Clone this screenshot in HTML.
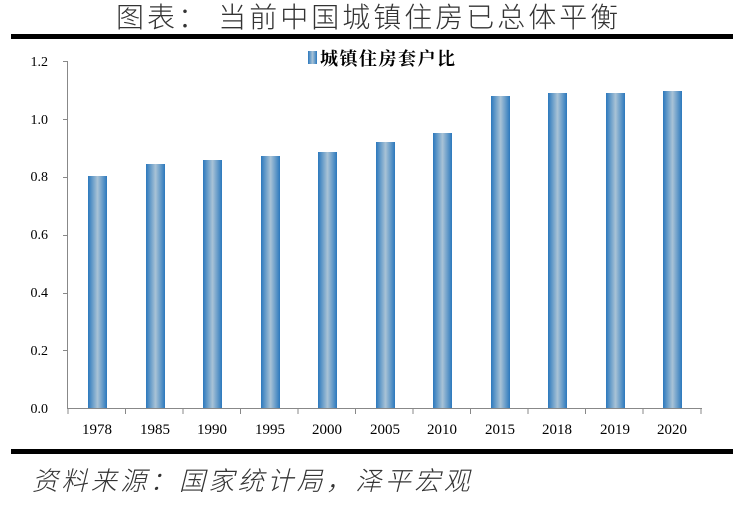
<!DOCTYPE html>
<html><head><meta charset="utf-8"><style>
body{margin:0;background:#fff;width:740px;height:505px;overflow:hidden}
</style></head><body>
<svg width="740" height="505" xmlns="http://www.w3.org/2000/svg">
<defs><linearGradient id="g" x1="0" x2="1" y1="0" y2="0">
<stop offset="0" stop-color="#2b78bd"/><stop offset="0.5" stop-color="#a9c3d6"/><stop offset="1" stop-color="#2b78bd"/></linearGradient></defs>
<text x="116" y="27" font-family="'Noto Sans CJK SC',sans-serif" font-weight="300" font-size="28" fill="#333" letter-spacing="3">图表：  当前中国城镇住房已总体平衡</text>
<rect x="11" y="34" width="722" height="5" fill="#000"/>
<rect x="11" y="449" width="722" height="5" fill="#000"/>
<text x="32" y="490" font-family="'Noto Sans CJK SC',sans-serif" font-weight="300" font-style="italic" font-size="26" fill="#333" letter-spacing="3.4">资料来源：国家统计局，泽平宏观</text>
<g font-family="'Liberation Serif',serif" font-size="14" fill="#000" text-anchor="end">
<text x="48" y="66">1.2</text><text x="48" y="124">1.0</text><text x="48" y="181">0.8</text>
<text x="48" y="239">0.6</text><text x="48" y="297">0.4</text><text x="48" y="355">0.2</text><text x="48" y="413">0.0</text>
</g>
<g stroke="#888" stroke-width="1">
<line x1="67.5" y1="61" x2="67.5" y2="408"/>
<line x1="63" y1="61.5" x2="67" y2="61.5"/><line x1="63" y1="119.5" x2="67" y2="119.5"/><line x1="63" y1="177.5" x2="67" y2="177.5"/>
<line x1="63" y1="235.5" x2="67" y2="235.5"/><line x1="63" y1="293.5" x2="67" y2="293.5"/><line x1="63" y1="350.5" x2="67" y2="350.5"/>
<line x1="67" y1="408.5" x2="702" y2="408.5"/>
</g>
<g fill="url(#g)">
<rect x="88" y="176" width="19" height="232"/>
<rect x="146" y="164" width="19" height="244"/>
<rect x="203" y="160" width="19" height="248"/>
<rect x="261" y="156" width="19" height="252"/>
<rect x="318" y="152" width="19" height="256"/>
<rect x="376" y="142" width="19" height="266"/>
<rect x="433" y="133" width="19" height="275"/>
<rect x="491" y="96" width="19" height="312"/>
<rect x="548" y="93" width="19" height="315"/>
<rect x="606" y="93" width="19" height="315"/>
<rect x="663" y="91" width="19" height="317"/>
</g>
<g stroke="#888">
<line x1="68" y1="408" x2="68" y2="414"/><line x1="125.5" y1="408" x2="125.5" y2="414"/><line x1="183" y1="408" x2="183" y2="414"/>
<line x1="240.5" y1="408" x2="240.5" y2="414"/><line x1="298" y1="408" x2="298" y2="414"/><line x1="355.5" y1="408" x2="355.5" y2="414"/>
<line x1="413" y1="408" x2="413" y2="414"/><line x1="470.5" y1="408" x2="470.5" y2="414"/><line x1="528" y1="408" x2="528" y2="414"/>
<line x1="585.5" y1="408" x2="585.5" y2="414"/><line x1="643" y1="408" x2="643" y2="414"/><line x1="701" y1="408" x2="701" y2="414"/>
</g>
<g font-family="'Liberation Serif',serif" font-size="15" fill="#000" text-anchor="middle">
<text x="97" y="434">1978</text><text x="155" y="434">1985</text><text x="212" y="434">1990</text><text x="270" y="434">1995</text>
<text x="327" y="434">2000</text><text x="385" y="434">2005</text><text x="442" y="434">2010</text><text x="500" y="434">2015</text>
<text x="557" y="434">2018</text><text x="615" y="434">2019</text><text x="672" y="434">2020</text>
</g>
<rect x="308" y="51" width="9" height="13" fill="url(#g)"/>
<text x="320" y="65" font-family="'Noto Serif CJK SC',serif" font-weight="bold" font-size="18" fill="#000" letter-spacing="1.5">城镇住房套户比</text>
</svg>
</body></html>
